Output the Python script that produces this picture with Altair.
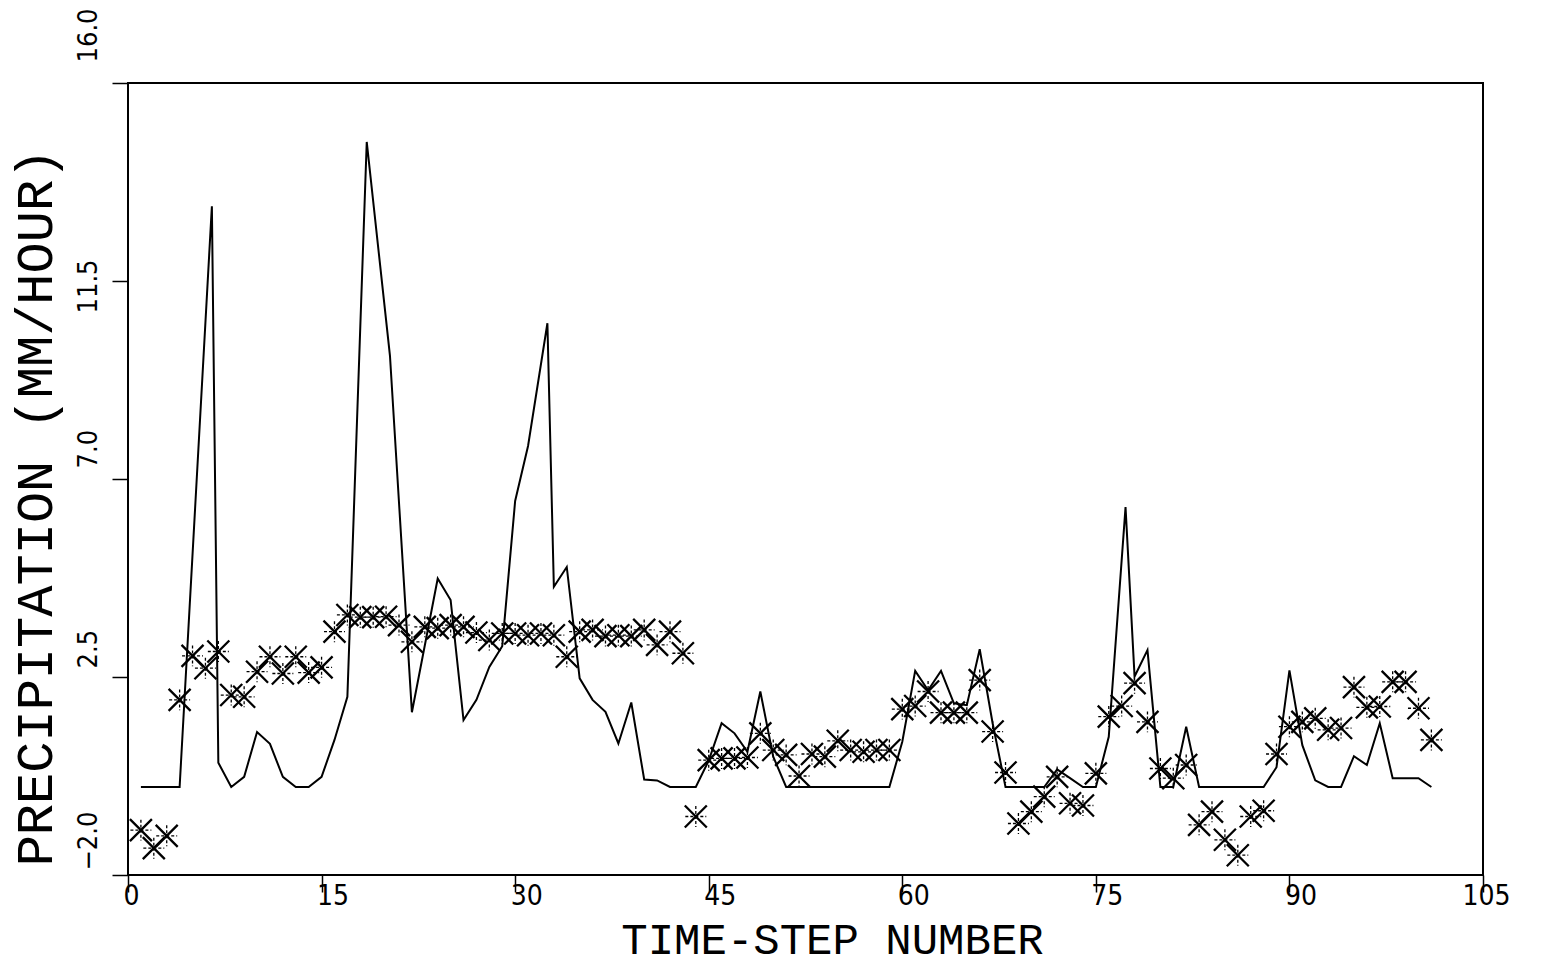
import altair as alt
import pandas as pd

# ---- data ----
star_t = list(range(1, 102))
star_v = [-0.98, -1.39, -1.11, 1.98, 2.98, 2.70, 3.08, 2.09, 2.05, 2.62,
          2.96, 2.58, 2.96, 2.60, 2.72, 3.53, 3.91, 3.86, 3.86, 3.87,
          3.68, 3.30, 3.64, 3.61, 3.68, 3.64, 3.51, 3.34, 3.49, 3.49,
          3.45, 3.49, 3.45, 2.96, 3.53, 3.57, 3.43, 3.45, 3.43, 3.57,
          3.23, 3.53, 3.04, -0.67, 0.61, 0.65, 0.65, 0.67, 1.22, 0.84,
          0.73, 0.25, 0.75, 0.69, 1.05, 0.84, 0.80, 0.84, 0.84, 1.77,
          1.84, 2.17, 1.69, 1.69, 1.69, 2.43, 1.26, 0.33, -0.83, -0.56,
          -0.22, 0.23, -0.37, -0.42, 0.31, 1.60, 1.84, 2.36, 1.48, 0.42,
          0.20, 0.50, -0.86, -0.56, -1.20, -1.55, -0.67, -0.54, 0.75, 1.37,
          1.48, 1.56, 1.30, 1.34, 2.27, 1.81, 1.83, 2.39, 2.39, 1.79,
          1.07]

line_t = [1, 2, 3, 4, 6.5, 7, 8, 9, 10, 11, 12, 13, 14, 15, 16, 17, 18.5, 20.3, 22,
          24, 25, 26, 27, 28, 29, 30, 31, 32.5, 33, 34, 35, 36, 37, 38, 39, 40,
          41, 42, 43, 44, 45, 46, 47, 48, 49, 50, 51, 52, 53, 54, 55, 56, 57, 58,
          59, 60, 61, 62, 63, 64, 65, 66, 67, 68, 69, 70, 71, 72, 73, 74, 75, 76,
          77.3, 78, 79, 80, 81, 82, 83, 84, 85, 86, 87, 88, 89, 90, 91, 92, 93,
          94, 95, 96, 97, 98, 99, 100, 101]
line_v = [0, 0, 0, 0, 13.2, 0.55, 0, 0.23, 1.25, 0.98, 0.23, 0, 0, 0.23, 1.07, 2.05, 14.66, 9.8, 1.7,
          4.74, 4.25, 1.52, 1.98, 2.73, 3.2, 6.5, 7.75, 10.54, 4.55, 5.0, 2.47, 1.98, 1.71, 0.99, 1.92, 0.17,
          0.15, 0, 0, 0, 0.6, 1.45, 1.22, 0.8, 2.17, 0.69, 0, 0, 0, 0, 0, 0, 0, 0,
          0, 1.03, 2.64, 2.2, 2.64, 1.9, 1.86, 3.13, 1.45, 0, 0, 0, 0, 0.4, 0.2, 0, 0, 1.14,
          6.36, 2.51, 3.11, 0, 0, 1.37, 0, 0, 0, 0, 0, 0, 0.45, 2.65, 0.95, 0.15, 0,
          0, 0.7, 0.5, 1.45, 0.2, 0.2, 0.2, 0]

x_ticks = [0, 15, 30, 45, 60, 75, 90, 105]
y_ticks = [-2.0, 2.5, 7.0, 11.5, 16.0]

stars = pd.DataFrame({"t": star_t, "v": star_v})
line = pd.DataFrame({"t": line_t, "v": line_v})

TITLE_FONT = "Liberation Mono"
LABEL_FONT = "Liberation Sans Narrow, DejaVu Sans Condensed, Liberation Sans"

x_enc = alt.X(
    "t:Q",
    scale=alt.Scale(domain=[0, 105], nice=False, zero=False),
    axis=alt.Axis(
        values=x_ticks, grid=False, domain=False,
        tickSize=17, tickWidth=1.5, tickColor="black",
        labelFont=LABEL_FONT, labelFontSize=28, labelColor="black",
        labelPadding=-10, labelAlign="center", labelBaseline="top",
        labelOffset={"condition": {"test": "datum.value == 0 || datum.value == 105", "value": 3}, "value": 11},
        labelFlush=False, labelOverlap=False,
        title="TIME-STEP NUMBER", titleFont=TITLE_FONT, titleFontSize=44,
        titleFontWeight="normal", titleColor="black",
        titleX=704, titleY=78, titleAlign="center", titleBaseline="alphabetic",
    ),
)
y_enc = alt.Y(
    "v:Q",
    scale=alt.Scale(domain=[-2, 16], nice=False, zero=False),
    axis=alt.Axis(
        values=y_ticks, format=".1f", grid=False, domain=False,
        tickSize=16, tickWidth=1.5, tickColor="black",
        labelFont=LABEL_FONT, labelFontSize=27, labelColor="black",
        labelAngle=270, labelAlign="left", labelBaseline="alphabetic",
        labelPadding=16,
        labelOffset={"condition": [
            {"test": "datum.value == 11.5", "value": 32},
            {"test": "datum.value == 16", "value": -21},
            {"test": "datum.value == 7", "value": -11},
            {"test": "datum.value == 2.5", "value": -9},
        ], "value": -5},
        labelOverlap=False, labelFlush=False,
        title="PRECIPITATION (MM/HOUR)", titleFont=TITLE_FONT, titleFontSize=52,
        titleFontWeight="normal", titleColor="black",
        titleAngle=270, titleX=-77, titleY=424, titleAlign="center",
        titleBaseline="alphabetic",
    ),
)

line_layer = alt.Chart(line).mark_line(color="black", strokeWidth=2).encode(x=x_enc, y=y_enc)

star_x = alt.Chart(stars).mark_point(
    shape="M-1,-1L1,1M-1,1L1,-1", size=484, filled=False,
    stroke="black", strokeWidth=2.3, opacity=1,
).encode(x="t:Q", y="v:Q")
star_plus = alt.Chart(stars).mark_point(
    shape="M0,-1L0,1M-1,0L1,0", size=440, filled=False,
    stroke="black", strokeWidth=1.3, strokeDash=[3, 2], opacity=1,
).encode(x="t:Q", y="v:Q")

chart = (
    alt.layer(line_layer, star_x, star_plus)
    .properties(
        width=1355, height=792,
        autosize=alt.AutoSizeParams(type="none"),
        padding={"left": 120, "top": 75, "right": 50, "bottom": 92},
        background="white",
    )
    .configure_view(stroke="black", strokeWidth=2)
)

chart.save("out.html", embed_options={"renderer": "svg", "actions": False})
